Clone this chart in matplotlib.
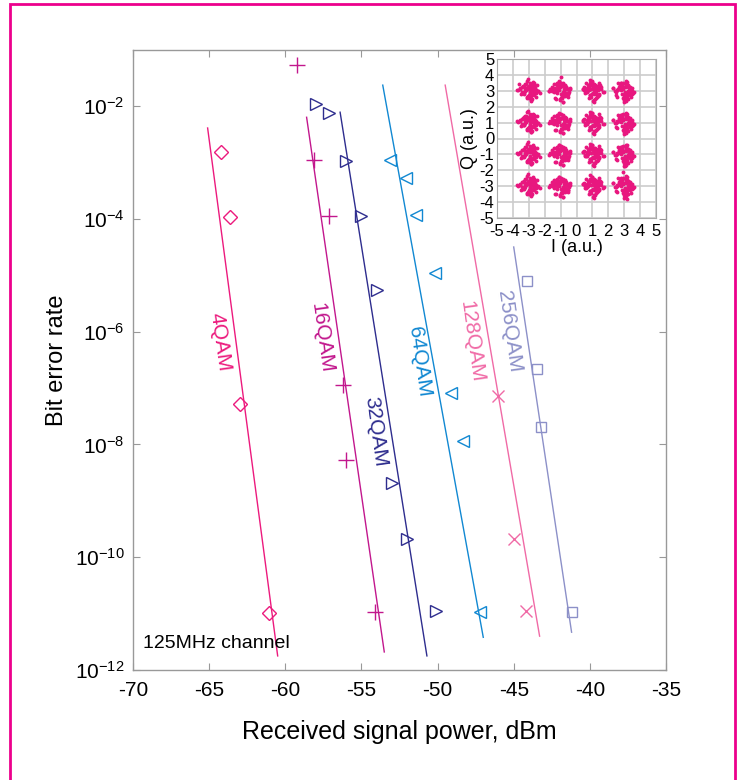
import matplotlib
matplotlib.use("Agg")
import matplotlib.pyplot as plt
from matplotlib.patches import Rectangle
import numpy as np

plt.rcParams['font.family'] = ['Liberation Sans', 'DejaVu Sans']
plt.rcParams['mathtext.fontset'] = 'custom'
plt.rcParams['mathtext.rm'] = 'Liberation Sans'

# measured points (power in dBm, log10 BER)
formats = ['4QAM', '16QAM', '32QAM', '64QAM', '128QAM', '256QAM']
colors = ['#EC1A7D', '#C2178D', '#2E2D8E', '#1188D2', '#F06AA6', '#8C90C8']
markers = ['D', '+', '>', '<', 'x', 's']
msizes = [7, 11, 9, 9, 8, 7]

pwr_4 = [-64.2, -63.6, -63.0, -61.1]
ber_4 = [-2.82, -3.97, -7.28, -10.99]
pwr_16 = [-59.2, -58.1, -57.1, -56.2, -56.0, -54.1]
ber_16 = [-1.27, -2.96, -3.95, -6.95, -8.28, -10.97]
pwr_32 = [-58.0, -57.1, -56.0, -55.0, -54.0, -53.0, -52.0, -50.1]
ber_32 = [-1.96, -2.12, -2.97, -3.95, -5.26, -8.68, -9.68, -10.96]
pwr_64 = [-53.1, -52.1, -51.4, -50.2, -49.1, -48.3, -47.2]
ber_64 = [-2.96, -3.27, -3.93, -4.96, -7.09, -7.94, -10.97]
pwr_128 = [-46.0, -45.0, -44.2]
ber_128 = [-7.14, -9.68, -10.96]
pwr_256 = [-44.1, -43.5, -43.2, -41.2]
ber_256 = [-5.10, -6.66, -7.69, -10.97]

# fitted lines: (start power, end power), (start log BER, end log BER)
fit_pwr = [(-65.1, -60.5), (-58.6, -53.5), (-56.4, -50.7),
           (-53.6, -47.0), (-49.5, -43.3), (-45.0, -41.2)]
fit_ber = [(-2.39, -11.75), (-2.20, -11.68), (-2.11, -11.75),
           (-1.63, -11.42), (-1.63, -11.40), (-4.50, -11.33)]

# label positions (power, log BER)
lab_pwr = [-64.3, -57.6, -54.1, -51.2, -47.8, -45.3]
lab_ber = [-6.18, -6.11, -7.78, -6.54, -6.18, -5.99]

# constellation: cluster centres and scatter offsets
centres_i = [-3, -1, 1, 3] * 4
centres_q = [3] * 4 + [1] * 4 + [-1] * 4 + [-3] * 4
off_i = [
    [0.07, -0.16, 0.27, -0.39, 0.18, -0.07, 0.43, -0.29, 0.10, 0.35, -0.53, 0.23, -0.12, 0.03, 0.58,
     -0.22, 0.14, -0.36, 0.31, -0.04, 0.47, -0.65, 0.09, -0.18, 0.25, -0.46, 0.38, 0.00, -0.09, 0.68],
    [-0.10, 0.21, -0.33, 0.40, 0.04, -0.25, 0.29, -0.48, 0.16, 0.52, -0.05, 0.34, -0.17, 0.12, -0.40,
     0.23, -0.72, 0.46, -0.13, 0.08, 0.36, -0.29, 0.62, -0.01, 0.17, -0.57, 0.26, -0.21, 0.01, 0.49],
    [0.14, -0.35, 0.03, 0.44, -0.20, 0.27, -0.08, -0.51, 0.38, 0.09, -0.26, 0.20, 0.56, -0.14, -0.42,
     0.33, 0.00, -0.62, 0.25, -0.03, 0.48, -0.31, 0.12, 0.75, -0.17, 0.39, -0.46, 0.07, -0.10, 0.21],
    [-0.03, 0.31, -0.43, 0.17, 0.07, -0.22, 0.51, -0.10, 0.35, -0.34, 0.13, -0.59, 0.26, 0.42, -0.16,
     0.01, -0.27, 0.60, -0.47, 0.20, -0.07, 0.10, 0.30, -0.38, 0.46, -0.18, 0.05, -0.68, 0.22, 0.16],
]
off_q = [
    [0.13, 0.05, -0.20, 0.29, 0.40, -0.35, 0.08, -0.12, 0.52, -0.27, 0.16, 0.22, -0.47, 0.33, -0.03,
     0.10, -0.58, -0.16, 0.36, 0.25, -0.39, 0.04, -0.08, 0.44, 0.01, -0.23, 0.18, -0.31, 0.64, -0.14],
    [0.03, -0.27, 0.17, 0.10, -0.43, 0.35, -0.18, 0.07, 0.48, -0.08, -0.53, 0.26, 0.20, -0.34, 0.42,
     0.14, -0.04, -0.22, 0.57, 0.31, -0.12, -0.49, 0.09, 0.23, -0.68, 0.00, 0.38, -0.16, 0.30, -0.38],
    [-0.05, 0.16, 0.39, -0.25, 0.08, 0.30, -0.40, 0.21, 0.12, -0.55, 0.03, -0.17, 0.26, 0.46, -0.09,
     -0.33, 0.61, 0.13, -0.44, -0.21, 0.35, 0.05, 0.18, -0.07, -0.29, 0.51, -0.01, -0.72, 0.34, 0.10],
    [0.22, -0.10, 0.07, 0.36, -0.30, 0.49, 0.01, -0.44, -0.16, 0.27, 0.43, -0.03, -0.52, 0.12, 0.20,
     -0.25, 0.34, -0.08, -0.36, 0.56, 0.14, -0.64, 0.25, 0.09, -0.20, 0.04, -0.39, 0.17, 0.31, -0.48],
]
# a few stray symbols outside the clusters
stray_i = [-0.95, 3.05, 2.95, 3.2, -3.6, 0.45, -1.75]
stray_q = [3.85, -1.7, -2.1, -3.8, 3.45, 3.05, 3.0]

pwr = [pwr_4, pwr_16, pwr_32, pwr_64, pwr_128, pwr_256]
ber = [ber_4, ber_16, ber_32, ber_64, ber_128, ber_256]

fig = plt.figure(figsize=(7.41, 7.8), dpi=100)
ax = fig.add_axes([133 / 741, 110 / 780, 533 / 741, 620.4 / 780])

for k in range(len(formats)):
    c = colors[k]
    ax.plot(fit_pwr[k], 10.0 ** np.array(fit_ber[k]), color=c, lw=1.0)
    ax.plot(pwr[k], 10.0 ** np.array(ber[k]), ls='none', marker=markers[k], ms=msizes[k],
            mfc='none', mec=c, mew=1.0)
    ax.text(lab_pwr[k], 10.0 ** lab_ber[k], formats[k], color=c, fontsize=15,
            rotation=-82, ha='center', va='center', rotation_mode='anchor')

ax.set_yscale('log')
ax.set_xlim(-70, -35)
ax.set_ylim(1e-12, 1e-1)
ax.set_xticks(range(-70, -34, 5))
ax.set_xticklabels([str(v) for v in range(-70, -34, 5)])
yt = [-12, -10, -8, -6, -4, -2]
ax.set_yticks([10.0 ** e for e in yt])
ax.set_yticklabels([r'$\mathregular{10^{-%d}}$' % (-e) for e in yt])
ax.minorticks_off()
ax.tick_params(direction='in', length=5, color='#999999', labelsize=15, top=True, right=True)
ax.tick_params(axis='x', pad=8)
ax.tick_params(axis='y', pad=6)
for s in ax.spines.values():
    s.set_color('#999999')
    s.set_linewidth(1.0)
ax.set_xlabel('Received signal power, dBm', fontsize=18, labelpad=14)
ax.set_ylabel('Bit error rate', fontsize=17, labelpad=5)
ax.text(0.018, 0.035, '125MHz channel', transform=ax.transAxes, fontsize=14)

# inset constellation
ins = fig.add_axes([497 / 741, 562 / 780, 159 / 741, 159 / 780])
for k in range(16):
    a = k % 4
    b = (k + 2) % 4
    xi = centres_i[k] + np.array(off_i[a] + off_q[b])
    xq = centres_q[k] + np.array(off_q[a] + off_i[b])
    ins.plot(xi, xq, ls='none', marker='o', ms=2.8, color='#E8177F', mec='none')
ins.plot(stray_i, stray_q, ls='none', marker='o', ms=2.8, color='#E8177F', mec='none')
ins.set_xlim(-5, 5)
ins.set_ylim(-5, 5)
ins.set_xticks(range(-5, 6))
ins.set_yticks(range(-5, 6))
ins.set_xticklabels([str(v) for v in range(-5, 6)])
ins.set_yticklabels([str(v) for v in range(-5, 6)])
ins.grid(True, color='#cccccc', lw=1.2)
ins.set_axisbelow(True)
ins.tick_params(length=0, labelsize=12, pad=1)
ins.tick_params(axis='x', pad=4)
ins.tick_params(axis='y', pad=2)
for s in ins.spines.values():
    s.set_color('#aaaaaa')
ins.set_xlabel('I (a.u.)', fontsize=13, labelpad=0)
ins.set_ylabel('Q (a.u.)', fontsize=13, labelpad=1)

fig.patches.append(Rectangle((9.5 / 741, -0.01), 725 / 741, 0.01 + 775.5 / 780,
                             transform=fig.transFigure, fill=False, ec='#EC008C', lw=2))

fig.savefig('out.png', dpi=100)
